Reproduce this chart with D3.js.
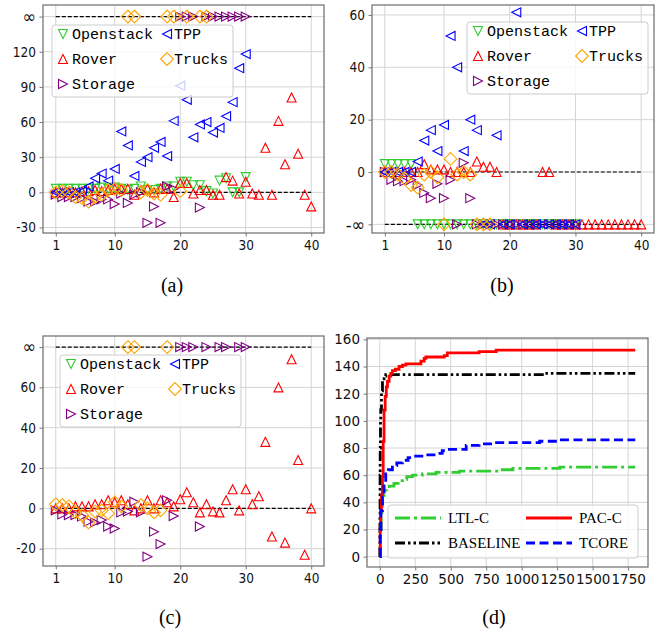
<!DOCTYPE html>
<html>
<head>
<meta charset="utf-8">
<script src="https://cdn.jsdelivr.net/npm/d3@7"></script>
<style>
  body { margin: 0; background: #fff; }
  .tick text { fill: #111; }
</style>
</head>
<body>
<svg id="chart" width="662" height="631"></svg>
<script>
const INF = Infinity, NINF = -Infinity;

// Data ------------------------------------------------------------------------------------------------------
// one value per instance (instance number = index + 1), null = not shown
const seriesNames = ["Openstack", "Rover", "Storage", "TPP", "Trucks"];
const xTicks = [1, 10, 20, 30, 40];

// (a)
const openstackA = [3,3,3,3,3,3,3,4,3,4, 3,2,3,5,2,2,3,5,5,9, 9,6,6,1,-1,10,12,0,0,13];
const roverA = [0,0,0,0,1,1,2,1,2,3, 3,3,-2,2,3,0,3,3,-4,8, 8,-1,2,2,-2,-2,13,10,-1,9, -1,-2,38,-2,61,24,81,33,-2,-12];
const storageA = [-2,-4,-4,-4,-5,-8,-8,-6,-6,-10, -1,-9,-2,0,-26,-12,-26,5,3,INF, INF,INF,-13,INF,INF,INF,INF,INF,INF,INF];
const tppA = [0,0,0,0,1,5,12,16,10,20, 52,40,14,26,30,38,43,31,61,91, 79,47,58,60,51,55,65,77,106,118];
const trucksA = [0,1,0,-4,-5,-8,-4,-2,2,3, 2,INF,INF,0,2,-1,-2,INF,INF,1, INF,null,INF,INF];
const yTicksA = [-30, 0, 30, 60, 90, 120, 150];

// (b)
const openstackB = [3,3,3,3,3,NINF,NINF,NINF,NINF,NINF, NINF,NINF,NINF,NINF,NINF,NINF,NINF,NINF,NINF,NINF, NINF,NINF,NINF,NINF,NINF,NINF,NINF,NINF,NINF,NINF];
const roverB = [0,0,0,0,0,0,3,1,1,1, 0,0,0,0,4,2,2,0,NINF,NINF, NINF,NINF,NINF,NINF,0,0,NINF,NINF,NINF,NINF, NINF,NINF,NINF,NINF,NINF,NINF,NINF,NINF,NINF,NINF];
const storageB = [0,-3,-3.5,-3.5,-3,-5,-8,-10,-4.5,-10, -3,NINF,3.5,-10,NINF,NINF,NINF,NINF,NINF,NINF, NINF,NINF,NINF,NINF,NINF,NINF,NINF,NINF,NINF,NINF];
const tppB = [0,0,0,0,0,4,12,16,8,18, 52,40,8,20,16,NINF,NINF,14,NINF,NINF, 61,NINF,NINF,NINF,NINF,NINF,NINF,NINF,NINF,NINF];
const trucksB = [0,0,-1,-2.5,-5,-6,-1,0,-2,NINF, 5,-1,0,-1,NINF,NINF,NINF];
const yTicksB = [-20, 0, 20, 40, 60];

// (c)
const openstackC = [];
const roverC = [0,0,0,1,1,1,2,2,4,3, 4,2,-1,0,4,0,4,3,1,4.5, 8,3,-2,2,-1.5,-2,4,9.5,-1,9.5, 2,6,33,-14,60,-17,74,24,-23,0];
const storageC = [-1,-3,-3.3,-3.3,-4,-6.6,-7,-5.8,-9,-10, -2,-1.6,3.3,-2,-24,-11.6,-17.7,4,-3.8,INF, INF,INF,-9,INF,null,INF,INF,null,INF,INF];
const tppC = [];
const trucksC = [2,1.6,1,-2,-3.3,-7,-1.6,-1,-2.5,3, 1,INF,INF,1.6,0,-2,-1,INF];
const yTicksC = [-20, 0, 20, 40, 60, 80];

// (d) cumulative solved instances over time
const ltlTimes  = [0,4,10,16,19,30,46,66,100,130,160,190,231,300,396,561,844,938,1269,1800];
const ltlCounts = [0,20,30,35,45,49,50,52,54,56,57,59,60,61,62,63,64,65,66,66];
const pacTimes  = [0,3,7,12,19,24,30,38,46,54,66,78,89,110,136,160,184,290,313,325,455,476,700,820,1800];
const pacCounts = [0,20,34,45,59,85,108,118,125,129,133,135,137,138,140,141,142,144,146,147,148,150,151,152,152];
const baseTimes  = [0,1,2,3,5,7,12,19,30,42,1163,1800];
const baseCounts = [0,30,60,80,100,108,122,131,133,134,135,135];
const tcoreTimes  = [0,3,8,19,30,42,60,89,120,160,200,243,320,396,440,467,609,700,797,1127,1269,1800];
const tcoreCounts = [0,20,34,44,55,61,64,67,69,71,73,74,75,76,78,79,82,83,84,85,86,86];
const xTicksD = d3.range(0, 1751, 250);
const yTicksD = d3.range(0, 161, 20);

// Styles ------------------------------------------------------------------------------------------------------
const seriesStyle = {
    Openstack: {shape: "v", color: "#32cd32"},
    Rover: {shape: "^", color: "#ff0000"},
    Storage: {shape: ">", color: "#800080"},
    TPP: {shape: "<", color: "#0000ff"},
    Trucks: {shape: "D", color: "#ffa500"}
};
const tickFont = "'DejaVu Sans Condensed', 'Liberation Sans Narrow', 'Liberation Sans', sans-serif";
const frameColor = "#777", gridColor = "#d4d4d4";

const markerPath = (shape, s) => {
    const h = s / 2, r = s * 0.707;
    if (shape === "v") return `M0,${h}L${-h},${-h}L${h},${-h}Z`;
    if (shape === "^") return `M0,${-h}L${-h},${h}L${h},${h}Z`;
    if (shape === "<") return `M${-h},0L${h},${-h}L${h},${h}Z`;
    if (shape === ">") return `M${h},0L${-h},${-h}L${-h},${h}Z`;
    return `M0,${-r}L${r},0L0,${r}L${-r},0Z`;
};

const svg = d3.select("#chart");
svg.append("rect").attr("width", 662).attr("height", 631).attr("fill", "#fff");

// Scatter panels ------------------------------------------------------------------------------------------------
const panels = [
    {left: 43, right: 324, top: 5, bottom: 233, yDomain: [-34.7, 159.9], yTicks: yTicksA, inf: 150, ninf: null,
     values: [openstackA, roverA, storageA, tppA, trucksA], legend: [52, 25], label: "(a)", labelPos: [172, 285]},
    {left: 372, right: 654, top: 5, bottom: 233, yDomain: [-23.3, 63.8], yTicks: yTicksB, inf: null, ninf: -20,
     values: [openstackB, roverB, storageB, tppB, trucksB], legend: [467, 22], label: "(b)", labelPos: [502, 285]},
    {left: 43, right: 324, top: 336, bottom: 566, yDomain: [-28.6, 85.5], yTicks: yTicksC, inf: 80, ninf: null,
     values: [openstackC, roverC, storageC, tppC, trucksC], legend: [60, 355], label: "(c)", labelPos: [170, 617]}
];

const styleAxis = ax => {
    ax.select(".domain").remove();
    ax.selectAll(".tick line").attr("stroke", frameColor);
    ax.selectAll(".tick text")
    .style("font-family", tickFont)
    .style("font-size", "13.5px");
};

panels.forEach(p => {
    const g = svg.append("g");
    const x = d3.scaleLinear().domain([-0.95, 41.95]).range([p.left, p.right]);
    const y = d3.scaleLinear().domain(p.yDomain).range([p.bottom, p.top]);
    const yv = v => y(v === INF ? p.inf : v === NINF ? p.ninf : v);

    // Grid
    g.selectAll(".gx").data(xTicks).join("line")
    .attr("x1", d => x(d)).attr("x2", d => x(d)).attr("y1", p.top).attr("y2", p.bottom)
    .attr("stroke", gridColor).attr("stroke-width", 1);
    g.selectAll(".gy").data(p.yTicks).join("line")
    .attr("x1", p.left).attr("x2", p.right).attr("y1", d => y(d)).attr("y2", d => y(d))
    .attr("stroke", gridColor).attr("stroke-width", 1);

    // Axes
    const yFmt = d => d === p.inf ? "∞" : d === p.ninf ? "-∞" : d;
    const xAx = g.append("g").attr("transform", `translate(0,${p.bottom})`)
    .call(d3.axisBottom(x).tickValues(xTicks).tickSize(3.5).tickPadding(3.5));
    styleAxis(xAx);
    const yAx = g.append("g").attr("transform", `translate(${p.left},0)`)
    .call(d3.axisLeft(y).tickValues(p.yTicks).tickFormat(yFmt).tickSize(3.5).tickPadding(3.5));
    styleAxis(yAx);
    yAx.selectAll(".tick text").filter(d => d === p.inf || d === p.ninf).style("font-size", "18px");

    // Reference lines
    const refs = [0, p.inf !== null ? p.inf : p.ninf];
    g.selectAll(".ref").data(refs).join("line")
    .attr("x1", x(1)).attr("x2", x(40)).attr("y1", d => y(d)).attr("y2", d => y(d))
    .attr("stroke", "#000").attr("stroke-width", 1.1).attr("stroke-dasharray", "4,2");

    // Markers
    seriesNames.forEach((name, si) => {
        const st = seriesStyle[name];
        const pts = p.values[si].map((v, i) => ({x: i + 1, v})).filter(d => d.v !== null);
        g.append("g").selectAll("path").data(pts).join("path")
        .attr("transform", d => `translate(${x(d.x)},${yv(d.v)})`)
        .attr("d", markerPath(st.shape, 9))
        .attr("fill", "none")
        .attr("stroke", st.color)
        .attr("stroke-width", 1.1);
    });

    // Frame
    g.append("rect")
    .attr("x", p.left).attr("y", p.top)
    .attr("width", p.right - p.left).attr("height", p.bottom - p.top)
    .attr("fill", "none").attr("stroke", frameColor).attr("stroke-width", 1.3);

    // Legend
    const [lx, ly] = p.legend;
    const lg = g.append("g").attr("transform", `translate(${lx},${ly})`);
    lg.append("rect").attr("width", 181).attr("height", 72).attr("rx", 3)
    .attr("fill", "#fff").attr("fill-opacity", 0.8).attr("stroke", "#ccc");
    seriesNames.forEach((name, i) => {
        const col = i < 3 ? 0 : 1, row = i < 3 ? i : i - 3;
        const st = seriesStyle[name];
        const item = lg.append("g").attr("transform", `translate(${col ? 115 : 11},${9 + row * 25})`);
        item.append("path").attr("d", markerPath(st.shape, 9))
        .attr("fill", "none").attr("stroke", st.color).attr("stroke-width", 1.1);
        item.append("text").attr("x", col ? 7 : 9).attr("dy", "0.35em")
        .style("font-family", "'Liberation Mono', 'Courier New', 'DejaVu Sans Mono', monospace")
        .style("font-size", "15px").text(name);
    });

    svg.append("text").attr("x", p.labelPos[0]).attr("y", p.labelPos[1]).attr("dy", "0.35em")
    .attr("text-anchor", "middle")
    .style("font-family", "'Liberation Serif', serif").style("font-size", "20px")
    .text(p.label);
});

// Panel (d) ---------------------------------------------------------------------------------------------------
const dL = 367, dR = 648, dT = 338, dB = 567;
const gD = svg.append("g");
const xD = d3.scaleLinear().domain([-90, 1890]).range([dL, dR]);
const yD = d3.scaleLinear().domain([-7.6, 161]).range([dB, dT]);

gD.selectAll(".gx").data(xTicksD).join("line")
.attr("x1", d => xD(d)).attr("x2", d => xD(d)).attr("y1", dT).attr("y2", dB)
.attr("stroke", gridColor);
gD.selectAll(".gy").data(yTicksD).join("line")
.attr("x1", dL).attr("x2", dR).attr("y1", d => yD(d)).attr("y2", d => yD(d))
.attr("stroke", gridColor);

const xAxD = gD.append("g").attr("transform", `translate(0,${dB})`)
.call(d3.axisBottom(xD).tickValues(xTicksD).tickFormat(d3.format("d")).tickSize(3.5).tickPadding(3.5));
const yAxD = gD.append("g").attr("transform", `translate(${dL},0)`)
.call(d3.axisLeft(yD).tickValues(yTicksD).tickFormat(d3.format("d")).tickSize(3.5).tickPadding(3.5));
[xAxD, yAxD].forEach(ax => {
    ax.select(".domain").remove();
    ax.selectAll(".tick line").attr("stroke", frameColor);
    ax.selectAll(".tick text").style("font-family", "'DejaVu Sans', sans-serif").style("font-size", "13.5px");
});

const methods = [
    {name: "LTL-C", times: ltlTimes, counts: ltlCounts, color: "#32cd32", dash: "15,4,3,4"},
    {name: "BASELINE", times: baseTimes, counts: baseCounts, color: "#000", dash: "10,3,2.5,3,2.5,3"},
    {name: "PAC-C", times: pacTimes, counts: pacCounts, color: "#ff0000", dash: null},
    {name: "TCORE", times: tcoreTimes, counts: tcoreCounts, color: "#0000ff", dash: "9,4.5"}
];

const stepLine = d3.line().curve(d3.curveStepAfter).x(d => xD(d.t)).y(d => yD(d.n));
methods.forEach(m => {
    const pts = m.times.map((t, i) => ({t, n: m.counts[i]}));
    gD.append("path").attr("d", stepLine(pts))
    .attr("fill", "none").attr("stroke", m.color).attr("stroke-width", 2.8)
    .attr("stroke-dasharray", m.dash);
});

gD.append("rect").attr("x", dL).attr("y", dT).attr("width", dR - dL).attr("height", dB - dT)
.attr("fill", "none").attr("stroke", frameColor).attr("stroke-width", 1.3);

// Legend (d)
const lgD = gD.append("g").attr("transform", "translate(388,505)");
lgD.append("rect").attr("width", 250).attr("height", 53).attr("rx", 3)
.attr("fill", "#fff").attr("fill-opacity", 0.8).attr("stroke", "#ccc");
const legendOrder = ["LTL-C", "PAC-C", "BASELINE", "TCORE"];
legendOrder.forEach((name, i) => {
    const m = methods.find(d => d.name === name);
    const col = i % 2, row = Math.floor(i / 2);
    const item = lgD.append("g").attr("transform", `translate(${col ? 138 : 7},${13 + row * 25})`);
    item.append("line").attr("x1", 0).attr("x2", 46).attr("y1", 0).attr("y2", 0)
    .attr("stroke", m.color).attr("stroke-width", 2.8).attr("stroke-dasharray", m.dash);
    item.append("text").attr("x", 53).attr("dy", "0.35em")
    .style("font-family", "'Liberation Serif', serif").style("font-size", "15px")
    .text(name);
});

svg.append("text").attr("x", 494).attr("y", 617).attr("dy", "0.35em")
.attr("text-anchor", "middle")
.style("font-family", "'Liberation Serif', serif").style("font-size", "20px")
.text("(d)");
</script>
</body>
</html>
